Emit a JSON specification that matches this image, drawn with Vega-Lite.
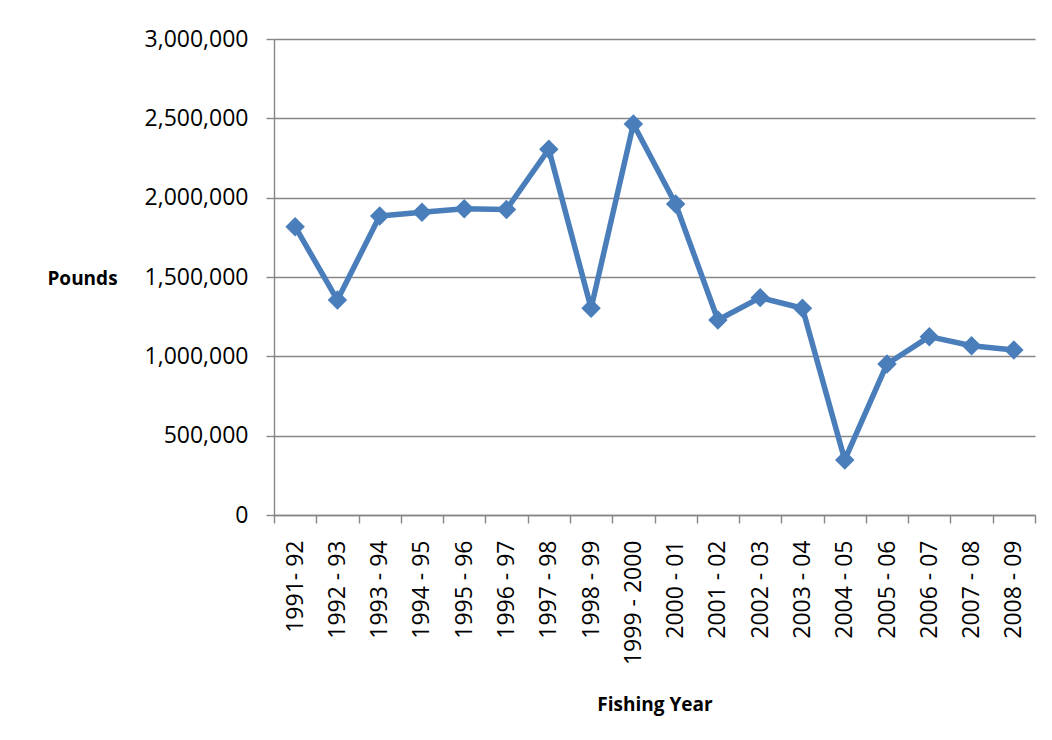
{
  "$schema": "https://vega.github.io/schema/vega-lite/v6.json",
  "width": 761,
  "height": 476,
  "autosize": {"type": "none"},
  "padding": {"left": 274, "top": 39, "right": 17, "bottom": 225},
  "background": "white",
  "config": {
    "view": {"stroke": null},
    "font": "Open Sans",
    "axis": {
      "labelFont": "Open Sans",
      "labelFontSize": 23,
      "labelColor": "#000000",
      "titleFont": "Open Sans",
      "titleFontSize": 19,
      "titleFontWeight": "bold",
      "titleColor": "#000000",
      "domainColor": "#868686",
      "domainWidth": 1.4,
      "tickColor": "#868686",
      "tickWidth": 1.4,
      "tickSize": 8,
      "gridColor": "#868686",
      "gridWidth": 1.4
    }
  },
  "data": {
    "values": [
      {"year": "1991- 92", "pounds": 1817000},
      {"year": "1992 - 93", "pounds": 1355000},
      {"year": "1993 - 94", "pounds": 1884000},
      {"year": "1994 - 95", "pounds": 1908000},
      {"year": "1995 - 96", "pounds": 1930000},
      {"year": "1996 - 97", "pounds": 1926000},
      {"year": "1997 - 98", "pounds": 2305000},
      {"year": "1998 - 99", "pounds": 1303000},
      {"year": "1999 - 2000", "pounds": 2464000},
      {"year": "2000 - 01", "pounds": 1960000},
      {"year": "2001 - 02", "pounds": 1229000},
      {"year": "2002 - 03", "pounds": 1370000},
      {"year": "2003 - 04", "pounds": 1303000},
      {"year": "2004 - 05", "pounds": 347000},
      {"year": "2005 - 06", "pounds": 952000},
      {"year": "2006 - 07", "pounds": 1124000},
      {"year": "2007 - 08", "pounds": 1067000},
      {"year": "2008 - 09", "pounds": 1040000}
    ]
  },
  "encoding": {
    "x": {
      "field": "year",
      "type": "ordinal",
      "sort": null,
      "bandPosition": 0.5,
      "scale": {"type": "band", "paddingInner": 0, "paddingOuter": 0},
      "axis": {
        "title": "Fishing Year",
        "labelAngle": -90,
        "labelPadding": 17,
        "tickBand": "extent",
        "grid": false,
        "titleAnchor": "middle",
        "titleBaseline": "middle",
        "titleY": 189
      }
    },
    "y": {
      "field": "pounds",
      "type": "quantitative",
      "scale": {"domain": [0, 3000000]},
      "axis": {
        "title": "Pounds",
        "values": [0, 500000, 1000000, 1500000, 2000000, 2500000, 3000000],
        "format": ",d",
        "labelPadding": 18,
        "grid": true,
        "titleAngle": 0,
        "titleAlign": "center",
        "titleBaseline": "middle",
        "titleX": -192,
        "titleY": 239
      }
    }
  },
  "layer": [
    {
      "mark": {"type": "line", "color": "#4a7ebb", "strokeWidth": 5.5, "strokeJoin": "round"}
    },
    {
      "mark": {"type": "point", "shape": "diamond", "filled": true, "color": "#4a7ebb", "opacity": 1, "size": 380}
    }
  ]
}
